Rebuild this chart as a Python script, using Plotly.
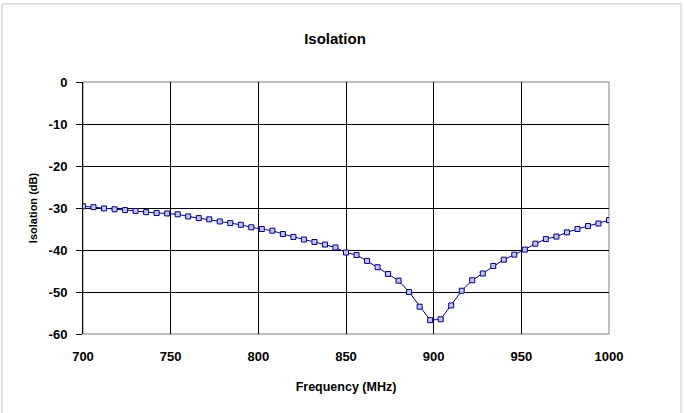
import plotly.graph_objects as go

freq_mhz = [700, 706, 712, 718, 724, 730, 736, 742, 748, 754, 760, 766, 772, 778, 784,
            790, 796, 802, 808, 814, 820, 826, 832, 838, 844, 850, 856, 862, 868, 874,
            880, 886, 892, 898, 904, 910, 916, 922, 928, 934, 940, 946, 952, 958, 964,
            970, 976, 982, 988, 994, 1000]
isolation_db = [-29.6, -29.8, -30.1, -30.3, -30.5, -30.7, -31.0, -31.2, -31.3, -31.5,
                -32.0, -32.4, -32.7, -33.2, -33.6, -34.0, -34.6, -35.0, -35.4, -36.2,
                -36.9, -37.5, -38.1, -38.7, -39.4, -40.6, -41.2, -42.6, -44.1, -45.7,
                -47.3, -50.0, -53.5, -56.7, -56.5, -53.2, -49.7, -47.2, -45.6, -43.8,
                -42.3, -41.1, -39.9, -38.5, -37.4, -36.8, -35.8, -35.0, -34.3, -33.7,
                -32.9]
x_ticks = [700, 750, 800, 850, 900, 950, 1000]
y_ticks = [0, -10, -20, -30, -40, -50, -60]

font_family = "Liberation Sans, Arial, sans-serif"

fig = go.Figure()
fig.add_trace(go.Scatter(
    x=freq_mhz, y=isolation_db, mode="lines+markers",
    line=dict(color="#000080", width=1),
    marker=dict(symbol="square", size=5, color="#c4c4f2",
                line=dict(color="#000080", width=1)),
    showlegend=False,
))

fig.update_layout(
    width=684, height=413,
    margin=dict(l=83, r=75, t=82, b=79),
    paper_bgcolor="white", plot_bgcolor="white",
    title=dict(text="<b>Isolation</b>", x=(335 - 83) / 526, xref="paper",
               y=1 - 39 / 413, yanchor="middle", xanchor="center",
               font=dict(family=font_family, size=15, color="black")),
    font=dict(family=font_family, color="black"),
    shapes=[
        dict(type="rect", xref="paper", yref="paper", x0=-0.154, x1=1.137,
             y0=-0.35, y1=1.31, line=dict(color="#c8c8c8", width=1), layer="below"),
        dict(type="rect", xref="paper", yref="paper", x0=0, x1=1, y0=0, y1=1,
             line=dict(color="#808080", width=1), layer="below"),
    ],
)

fig.update_xaxes(
    range=[700, 1000], tickvals=x_ticks, ticktext=[f"<b>{t}</b>" for t in x_ticks],
    showgrid=True, gridcolor="black", gridwidth=1, zeroline=False,
    showline=False, ticks="", ticklabelstandoff=13,
    tickfont=dict(size=13, family=font_family),
    title=dict(text="<b>Frequency (MHz)</b>", standoff=19,
               font=dict(size=12.5, family=font_family)),
)
fig.update_yaxes(
    range=[-60, 0], tickvals=y_ticks, ticktext=[f"<b>{t}</b>" for t in y_ticks],
    showgrid=True, gridcolor="black", gridwidth=1, zeroline=False,
    showline=True, linecolor="black", linewidth=1,
    ticks="outside", ticklen=6, tickcolor="black", ticklabelstandoff=6,
    tickfont=dict(size=13, family=font_family),
    title=dict(text="<b>Isolation (dB)</b>", standoff=8,
               font=dict(size=11, family=font_family)),
)

fig.write_html("out.html", config={"displayModeBar": False},
               post_script="document.body.style.margin='0';")
